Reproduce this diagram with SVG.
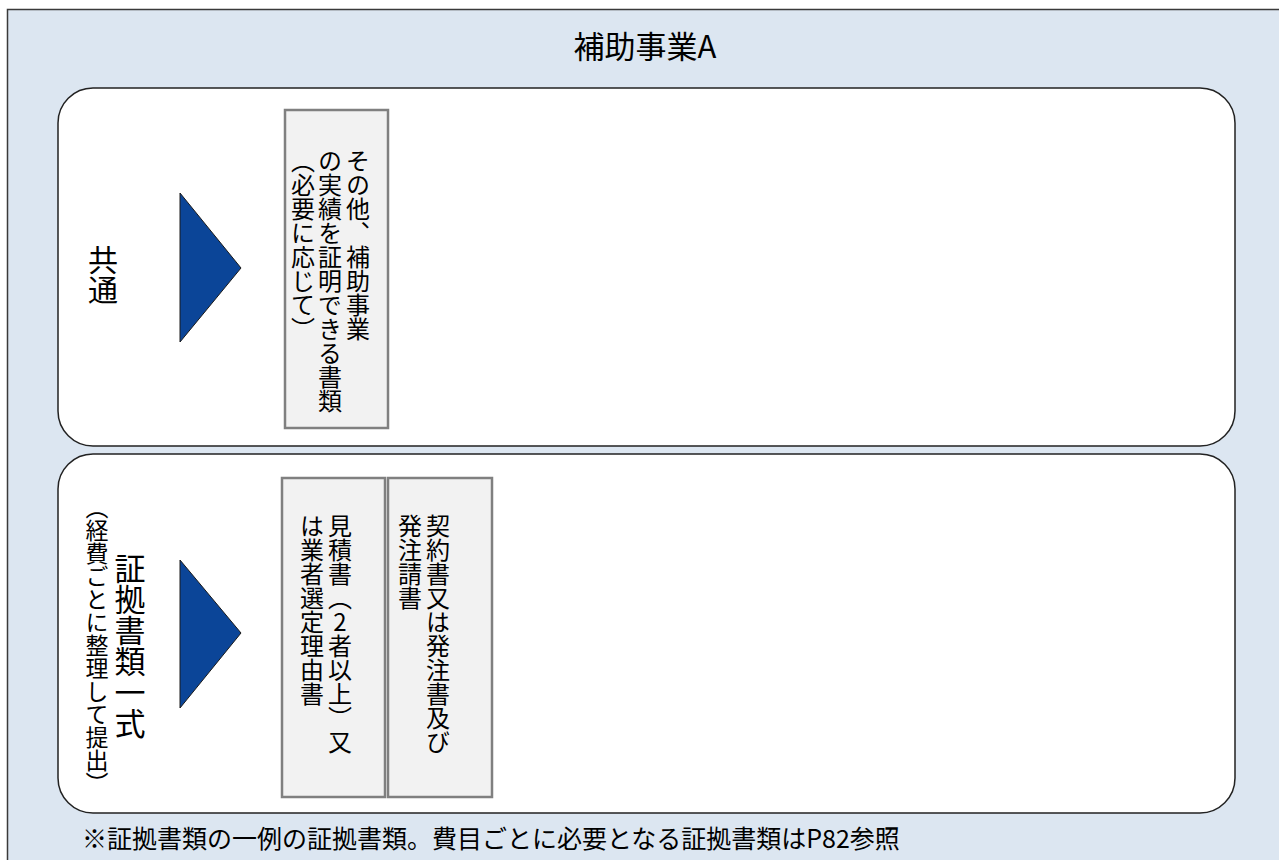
<svg xmlns="http://www.w3.org/2000/svg" width="1279" height="860" viewBox="0 0 1279 860">
<style>
.t{font-family:"Noto Sans CJK JP","Noto Sans",sans-serif;fill:#000}
.v{writing-mode:vertical-rl;text-orientation:upright}
.panel{fill:#fff;stroke:#222;stroke-width:1.5}
.doc{fill:#f2f2f2;stroke:#808080;stroke-width:2.5}
.tri{fill:#0b4598;stroke:#1a1a1a;stroke-width:1}
</style>
<rect x="7.5" y="9.5" width="1300" height="900" fill="#dce6f1" stroke="#3a3a3a" stroke-width="1.5"/>
<text class="t" x="645" y="58" font-size="31" text-anchor="middle">補助事業A</text>
<g id="panel-common">
<rect class="panel" x="58" y="88" width="1177" height="358" rx="35" ry="35"/>
<text class="t v" x="103" y="245" font-size="30">共通</text>
</g>
<g id="panel-evidence">
<rect class="panel" x="58" y="454" width="1177" height="359" rx="35" ry="35"/>
<text class="t v" x="130" y="553" font-size="31">証拠書類一式</text>
<text class="t v" x="97" y="496" font-size="23">（経費ごとに整理して提出）</text>
</g>
<g id="connectors">
<polygon class="tri" points="180,193 241,268 180,342"/>
<polygon class="tri" points="180,560 241,633 180,708"/>
</g>
<g id="doc-other">
<rect class="doc" x="285" y="110" width="103" height="318"/>
<text class="t v" x="358" y="149" font-size="24">その他、補助事業</text>
<text class="t v" x="330" y="149" font-size="24">の実績を証明できる書類</text>
<text class="t v" x="303" y="149" font-size="24">（必要に応じて）</text>
</g>
<g id="doc-estimate">
<rect class="doc" x="282" y="478" width="103" height="319"/>
<text class="t v" x="340" y="514" font-size="24">見積書（2者以上）又</text>
<text class="t v" x="312" y="514" font-size="24">は業者選定理由書</text>
</g>
<g id="doc-contract">
<rect class="doc" x="388" y="478" width="104" height="319"/>
<text class="t v" x="438" y="514" font-size="24">契約書又は発注書及び</text>
<text class="t v" x="410" y="514" font-size="24">発注請書</text>
</g>
<text class="t" x="82" y="848" font-size="25">※証拠書類の一例の証拠書類。費目ごとに必要となる証拠書類はP82参照</text>
</svg>
